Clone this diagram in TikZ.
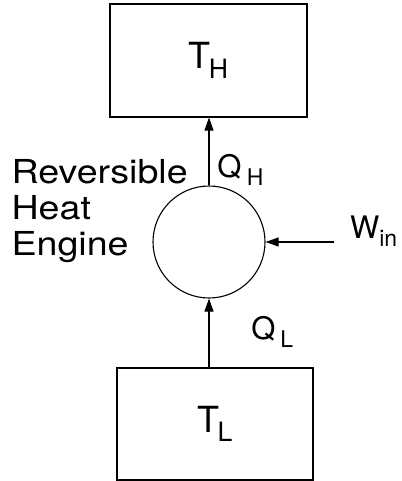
\documentclass[tikz,border=0pt]{standalone}
\usepackage{fontspec}
\usepackage{graphicx}
\setmainfont{TeX Gyre Heros}
\newfontfamily\widefont[FakeStretch=1.14]{TeX Gyre Heros}
\usetikzlibrary{arrows.meta}

\newcommand{\lowtext}[2][0pt]{\hspace{#1}\raisebox{-0.26em}{\scalebox{0.74}{#2}}}
\newcommand{\textsz}{\fontsize{31}{36}\selectfont}
\newcommand{\namesz}{\widefont\fontsize{33}{36}\selectfont}
\newcommand{\boxsz}{\fontsize{36}{36}\selectfont}

\tikzset{
  reservoir/.style={draw,line width=1.1pt,inner sep=0,font=\boxsz},
  enginecircle/.style={draw,circle,line width=1.1pt,minimum size=112pt,inner sep=0},
  heattext/.style={inner sep=0,font=\textsz},
}

\begin{document}
\begin{tikzpicture}[x=1pt,y=-1pt,line width=1.1pt,>={Triangle[length=13pt,width=9pt]}]
\useasboundingbox (0,0) rectangle (401,481);
% reservoirs
\node[reservoir,minimum width=197pt,minimum height=113pt] (hot) at (208.5,60.5) {T\lowtext[-0.05em]{H}};
\node[reservoir,minimum width=196pt,minimum height=112pt] (cold) at (215,424) {T\lowtext[-0.05em]{L}};
% engine
\node[enginecircle] (engine) at (209,242) {};
\node[heattext,font=\namesz,align=left,anchor=north west] (name) at (11,159.3) {Reversible\\Heat\\Engine};
% heat and work
\draw[->] (engine.north) -- (engine.north |- hot.south);
\draw[->] (engine.south |- cold.north) -- (engine.south);
\coordinate (wstart) at (334,242);
\draw[->] (wstart) -- (engine.east);
\node[heattext,anchor=base west] (qh) at (216.7,177) {Q\lowtext[0.18em]{H}};
\node[heattext,anchor=base west] (ql) at (250.7,339) {Q\lowtext[0.16em]{L}};
\node[heattext,anchor=base west] (win) at (349.5,238) {W\lowtext{in}};
\end{tikzpicture}
\end{document}
